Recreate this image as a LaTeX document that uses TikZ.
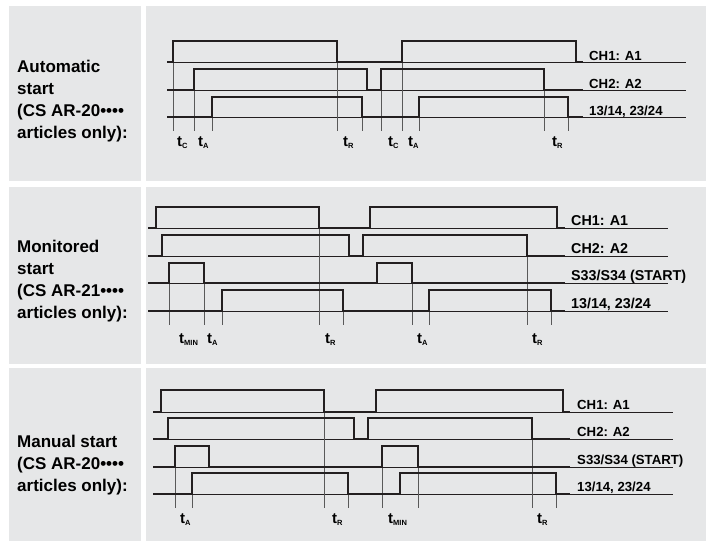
\documentclass[tikz,border=0pt]{standalone}
\usepackage{fontspec}
\setmainfont{Liberation Sans}
\usepackage{xcolor}
\definecolor{panelgray}{HTML}{E6E7E8}
\definecolor{markgray}{gray}{0.35}
\definecolor{inkblack}{HTML}{231F20}
\usepackage{tikz}

\tikzset{
  panel/.style={fill=panelgray, draw=none},
  wave/.style={draw=inkblack, line width=2.2pt},
  baseln/.style={draw=inkblack, line width=0.8pt},
  timemark/.style={draw=markgray, line width=0.7pt},
  sidetext/.style={anchor=base west, align=left, inner sep=0pt,
    font=\fontsize{17}{21.7}\selectfont\bfseries},
  siglabel/.style={anchor=base west, inner sep=0pt,
    font=\fontsize{13.2}{13.2}\selectfont\bfseries},
  tlabel/.style={anchor=base west, inner sep=0pt,
    font=\fontsize{15}{15}\selectfont\bfseries}
}
\newcommand{\tsub}[1]{t\raisebox{-2.5pt}{\fontsize{7.5}{7.5}\selectfont #1}}

\begin{document}
\begin{tikzpicture}[x=1pt, y=-1pt]
    \fill[white] (0,0) rectangle (711,541);
    \useasboundingbox (0,0) rectangle (711,541);

    %  grey panels
    \fill[panel] (9,6) rectangle (141,181);
    \fill[panel] (146,6) rectangle (706,181);
    \fill[panel] (9,187) rectangle (141,364);
    \fill[panel] (146,187) rectangle (706,364);
    \fill[panel] (9,368) rectangle (141,541);
    \fill[panel] (146,368) rectangle (706,541);

    %  automatic start (base = last line)
    \node [sidetext] (auto-text) at (17,138)
      {Automatic\\start\\(CS AR-20••••\\articles only):};
    \draw [baseln] (167,62) -- (686,62);
    \draw [baseln] (167,90) -- (686,90);
    \draw [baseln] (167,117) -- (686,117);
    \draw [timemark] (173,62) -- (173,131);
    \draw [timemark] (194,90) -- (194,131);
    \draw [timemark] (212,117) -- (212,131);
    \draw [timemark] (337,62) -- (337,131);
    \draw [timemark] (362,117) -- (362,131);
    \draw [timemark] (381,90) -- (381,131);
    \draw [timemark] (402,62) -- (402,131);
    \draw [timemark] (419,117) -- (419,131);
    \draw [timemark] (544,90) -- (544,131);
    \draw [timemark] (568,117) -- (568,131);
    \draw [wave] (167,62) -- (173,62) -- (173,41) -- (337,41) -- (337,62)
      -- (402,62) -- (402,41) -- (576,41) -- (576,62) -- (583,62);
    \draw [wave] (167,90) -- (194,90) -- (194,69) -- (367,69) -- (367,90)
      -- (381,90) -- (381,69) -- (544,69) -- (544,90) -- (583,90);
    \draw [wave] (167,117) -- (212,117) -- (212,97) -- (362,97) -- (362,117)
      -- (419,117) -- (419,97) -- (568,97) -- (568,117) -- (583,117);
    \node [siglabel] (auto-ch1) at (589,60) {CH1: A1};
    \node [siglabel] (auto-ch2) at (589,88) {CH2: A2};
    \node [siglabel] (auto-out) at (589,115) {13/14, 23/24};
    \node [tlabel] (auto-tc1) at (177,146) {\tsub{C}};
    \node [tlabel] (auto-ta1) at (198,146) {\tsub{A}};
    \node [tlabel] (auto-tr1) at (343,146) {\tsub{R}};
    \node [tlabel] (auto-tc2) at (388,146) {\tsub{C}};
    \node [tlabel] (auto-ta2) at (408,146) {\tsub{A}};
    \node [tlabel] (auto-tr2) at (552,146) {\tsub{R}};

    %  monitored start
    \node [sidetext] (mon-text) at (17,318)
      {Monitored\\start\\(CS AR-21••••\\articles only):};
    \draw [baseln] (148,228) -- (668,228);
    \draw [baseln] (148,256) -- (668,256);
    \draw [baseln] (148,283) -- (668,283);
    \draw [baseln] (148,311) -- (668,311);
    \draw [timemark] (169,283) -- (169,325);
    \draw [timemark] (204,283) -- (204,325);
    \draw [timemark] (222,311) -- (222,325);
    \draw [timemark] (319,228) -- (319,325);
    \draw [timemark] (343,311) -- (343,325);
    \draw [timemark] (412,283) -- (412,325);
    \draw [timemark] (429,311) -- (429,325);
    \draw [timemark] (527,256) -- (527,325);
    \draw [timemark] (551,311) -- (551,325);
    \draw [wave] (148,228) -- (156,228) -- (156,207) -- (319,207) -- (319,228)
      -- (370,228) -- (370,207) -- (557,207) -- (557,228) -- (565,228);
    \draw [wave] (148,256) -- (162,256) -- (162,235) -- (349,235) -- (349,256)
      -- (363,256) -- (363,235) -- (527,235) -- (527,256) -- (565,256);
    \draw [wave] (148,283) -- (169,283) -- (169,263) -- (204,263) -- (204,283)
      -- (377,283) -- (377,263) -- (412,263) -- (412,283) -- (565,283);
    \draw [wave] (148,311) -- (222,311) -- (222,290) -- (343,290) -- (343,311)
      -- (429,311) -- (429,290) -- (551,290) -- (551,311) -- (565,311);
    \node [siglabel, font=\fontsize{14.3}{14.3}\selectfont\bfseries] (mon-ch1) at (571,225) {CH1: A1};
    \node [siglabel, font=\fontsize{14.3}{14.3}\selectfont\bfseries] (mon-ch2) at (571,253) {CH2: A2};
    \node [siglabel, font=\fontsize{14.3}{14.3}\selectfont\bfseries] (mon-start) at (571,280) {S33/S34 (START)};
    \node [siglabel, font=\fontsize{14.3}{14.3}\selectfont\bfseries] (mon-out) at (571,308) {13/14, 23/24};
    \node [tlabel] (mon-tmin) at (179,343) {\tsub{MIN}};
    \node [tlabel] (mon-ta1) at (207,343) {\tsub{A}};
    \node [tlabel] (mon-tr1) at (325,343) {\tsub{R}};
    \node [tlabel] (mon-ta2) at (417,343) {\tsub{A}};
    \node [tlabel] (mon-tr2) at (532,343) {\tsub{R}};

    %  manual start
    \node [sidetext] (man-text) at (17,491)
      {Manual start\\(CS AR-20••••\\articles only):};
    \draw [baseln] (153,412) -- (673,412);
    \draw [baseln] (153,439) -- (673,439);
    \draw [baseln] (153,467) -- (673,467);
    \draw [baseln] (153,494) -- (673,494);
    \draw [timemark] (175,467) -- (175,508);
    \draw [timemark] (192,494) -- (192,508);
    \draw [timemark] (324,412) -- (324,508);
    \draw [timemark] (348,494) -- (348,508);
    \draw [timemark] (382,467) -- (382,508);
    \draw [timemark] (418,467) -- (418,508);
    \draw [timemark] (532,439) -- (532,508);
    \draw [timemark] (556,494) -- (556,508);
    \draw [wave] (153,412) -- (161,412) -- (161,390) -- (324,390) -- (324,412)
      -- (376,412) -- (376,390) -- (563,390) -- (563,412) -- (570,412);
    \draw [wave] (153,439) -- (168,439) -- (168,418) -- (354,418) -- (354,439)
      -- (368,439) -- (368,418) -- (532,418) -- (532,439) -- (570,439);
    \draw [wave] (153,467) -- (175,467) -- (175,446) -- (209,446) -- (209,467)
      -- (382,467) -- (382,446) -- (418,446) -- (418,467) -- (570,467);
    \draw [wave] (153,494) -- (192,494) -- (192,473) -- (348,473) -- (348,494)
      -- (400,494) -- (400,473) -- (556,473) -- (556,494) -- (570,494);
    \node [siglabel] (man-ch1) at (577,409) {CH1: A1};
    \node [siglabel] (man-ch2) at (577,436) {CH2: A2};
    \node [siglabel] (man-start) at (577,464) {S33/S34 (START)};
    \node [siglabel] (man-out) at (577,491) {13/14, 23/24};
    \node [tlabel] (man-ta1) at (180,523) {\tsub{A}};
    \node [tlabel] (man-tr1) at (332,523) {\tsub{R}};
    \node [tlabel] (man-tmin) at (388,523) {\tsub{MIN}};
    \node [tlabel] (man-tr2) at (537,523) {\tsub{R}};
  \end{tikzpicture}
\end{document}
